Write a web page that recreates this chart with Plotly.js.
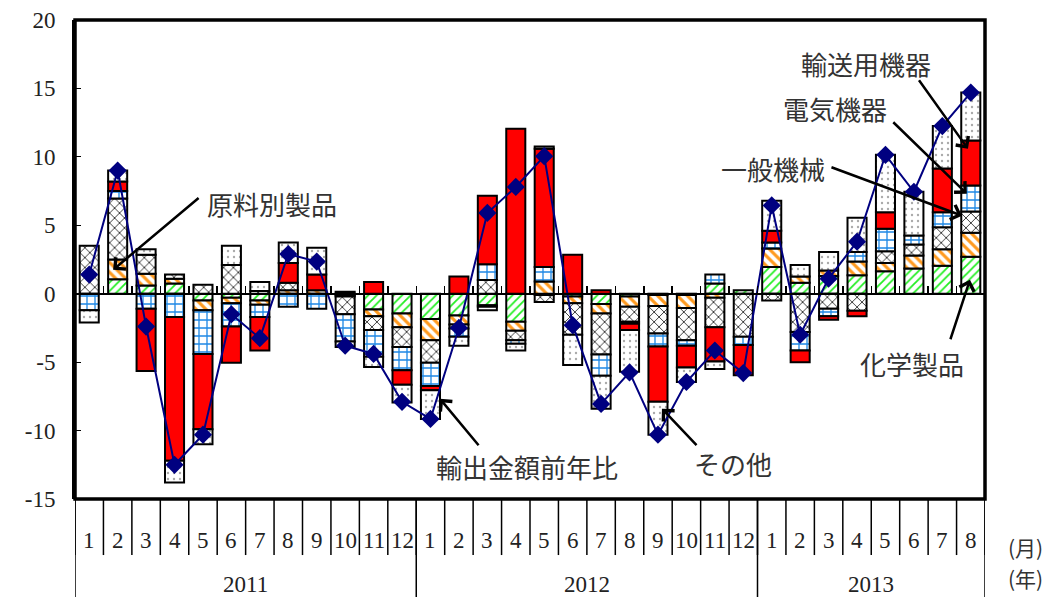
<!DOCTYPE html>
<html>
<head>
<meta charset="utf-8">
<script src="https://cdn.plot.ly/plotly-3.0.1.min.js"></script>
<style>html,body{margin:0;padding:0;background:#fff;}#chart{width:1053px;height:597px;}</style>
</head>
<body>
<div id="chart"></div>
<script>
// ---- data ----
const months = ["1","2","3","4","5","6","7","8","9","10","11","12",
                "1","2","3","4","5","6","7","8","9","10","11","12",
                "1","2","3","4","5","6","7","8"];
const years = ["2011","2012","2013"];
const yearCounts = [12, 12, 8];

const chemical   = [null,1.05,0.6,0.75,-0.5,-0.3,-0.5,null,null,-0.1,-1.15,-1.45,
                    -1.85,-1.6,-0.85,-2.05,-0.1,-0.2,-0.75,-0.2,-0.1,-0.1,0.75,0.25,
                    1.95,0.8,1.3,1.35,1.65,1.85,2.05,2.7];
const materials  = [null,1.45,0.85,0.35,-0.7,-0.4,-0.3,0.25,0.25,-0.1,-0.5,-1.0,
                    -1.55,-0.65,-0.1,-0.65,0.9,-0.5,-0.7,-0.75,-0.8,-0.95,-0.3,null,
                    1.35,0.45,0.4,1.0,0.6,0.95,1.2,1.75];
const machinery  = [3.5,4.45,1.4,0.3,0.65,2.1,0.2,0.55,null,-1.3,-1.0,-1.45,
                    -1.65,-0.3,1.0,-0.7,-0.5,-2.3,-3.0,-1.1,-2.0,-2.35,-2.15,-3.15,
                    -0.5,-2.8,-1.1,-1.25,0.85,0.8,1.6,1.55];
const electrical = [-1.2,0.55,-1.1,-1.7,-3.2,-1.7,-0.9,-0.95,-1.1,-2.0,-1.95,-1.7,
                    -1.7,-0.6,1.15,-0.25,1.05,null,-1.55,-0.15,-0.95,-0.4,0.65,-0.6,
                    0.45,-1.35,-0.55,0.7,1.65,0.65,1.1,1.9];
const transport  = [null,0.7,-4.55,-10.5,-5.5,-2.65,-2.45,1.45,1.15,0.15,0.85,-1.05,
                    -0.3,1.25,5.0,12.05,8.65,2.85,0.25,-0.45,-4.05,-1.6,-2.5,-2.2,
                    0.85,-0.85,-0.25,-0.4,1.2,null,3.2,3.3];
const others     = [-0.9,0.8,0.4,-1.6,-1.1,1.4,0.65,1.5,1.95,-0.4,-0.75,-1.3,
                    -2.1,-0.65,-0.25,-0.5,0.15,-2.2,-2.4,-3.05,-2.4,-1.05,-0.55,null,
                    2.2,0.85,1.35,2.5,4.2,3.2,3.1,3.5];
const exportsYoY = [1.4,9.0,-2.4,-12.5,-10.3,-1.5,-3.25,2.9,2.35,-3.8,-4.4,-7.9,
                    -9.15,-2.5,5.9,7.8,10.05,-2.3,-8.05,-5.75,-10.3,-6.45,-4.15,-5.8,
                    6.45,-3.0,1.1,3.8,10.15,7.45,12.25,14.7];

const yTickVals = [-15,-10,-5,0,5,10,15,20];
const yTickText = ["-15","-10","-5","0","5","10","15","20"];

// ---- build ----
const xIdx = months.map((_, i) => i);
const outline = {color: "#000", width: 2};
function barTrace(name, y, pattern, color) {
  return {type: "bar", name: name, x: xIdx, y: y,
    marker: {color: color || "#fff", line: outline, pattern: pattern}};
}
const traces = [
  barTrace("化学製品", chemical, {shape: "/", fgcolor: "#22ee22", bgcolor: "#fff", size: 6, solidity: 0.3}),
  barTrace("原料別製品", materials, {shape: "\\", fgcolor: "#ff9a1f", bgcolor: "#fff", size: 7, solidity: 0.45}),
  barTrace("一般機械", machinery, {shape: "x", fgcolor: "#333", bgcolor: "#fff", size: 7, solidity: 0.25}),
  barTrace("電気機器", electrical, {shape: "+", fgcolor: "#1e88e5", bgcolor: "#fff", size: 8, solidity: 0.3}),
  barTrace("輸送用機器", transport, {shape: ""}, "#ff0000"),
  barTrace("その他", others, {shape: ".", fgcolor: "#aaa", bgcolor: "#fff", size: 6, solidity: 0.12}),
  {type: "scatter", mode: "lines+markers", name: "輸出金額前年比", x: xIdx, y: exportsYoY,
   line: {color: "#000080", width: 2}, marker: {symbol: "diamond", size: 14, color: "#000080"}}
];

const n = months.length;
const shapes = [];
const monthLineBottom = -0.117, yearLineBottom = -0.21;
for (let i = 0; i <= n; i++) {
  shapes.push({type: "line", xref: "x", yref: "paper", x0: i - 0.5, x1: i - 0.5,
    y0: 0, y1: monthLineBottom, line: {color: "#000", width: 1.5}});
}
let acc = 0;
const yearBounds = [0];
yearCounts.forEach(c => { acc += c; yearBounds.push(acc); });
yearBounds.forEach(b => {
  shapes.push({type: "line", xref: "x", yref: "paper", x0: b - 0.5, x1: b - 0.5,
    y0: 0, y1: yearLineBottom, line: {color: "#000", width: 1.5}});
});
shapes.push({type: "rect", xref: "paper", yref: "paper", x0: 0, x1: 1, y0: 0, y1: 1,
  line: {color: "#000", width: 3.5}, layer: "above"});

const numFont = {family: "Liberation Serif, DejaVu Serif, serif", size: 23, color: "#222"};
const jpFont = {family: "Noto Sans CJK JP, sans-serif", size: 26, color: "#333"};

const annotations = [];
months.forEach((m, i) => annotations.push({xref: "x", yref: "paper", x: i, y: -0.086,
  text: m, showarrow: false, font: numFont, xanchor: "center", yanchor: "middle"}));
years.forEach((yv, k) => annotations.push({xref: "x", yref: "paper",
  x: (yearBounds[k] + yearBounds[k + 1] - 1) / 2, y: -0.178, text: yv, showarrow: false,
  font: numFont, xanchor: "center", yanchor: "middle"}));
annotations.push({xref: "paper", yref: "paper", x: 1.045, y: -0.1, text: "(月)",
  showarrow: false, font: {family: jpFont.family, size: 21, color: "#333"}, xanchor: "center", yanchor: "middle"});
annotations.push({xref: "paper", yref: "paper", x: 1.045, y: -0.165, text: "(年)",
  showarrow: false, font: {family: jpFont.family, size: 21, color: "#333"}, xanchor: "center", yanchor: "middle"});

const callouts = [
  {text: "原料別製品", tx: 6.43, ty: 6.6, hx: 0.84, hy: 1.75, ax: 87, ay: -73},
  {text: "輸出金額前年比", tx: 15.4, ty: -12.64, hx: 12.33, hy: -7.67, ax: 40, ay: 48},
  {text: "その他", tx: 22.64, ty: -12.42, hx: 20.14, hy: -8.4, ax: 36, ay: 38},
  {text: "化学製品", tx: 28.93, ty: -5.11, hx: 30.97, hy: 1.02, ax: -20, ay: 61},
  {text: "一般機械", tx: 24.04, ty: 9.13, hx: 30.69, hy: 5.7, ax: -132, ay: -49},
  {text: "電気機器", tx: 26.22, ty: 13.51, hx: 30.86, hy: 7.3, ax: -75, ay: -73},
  {text: "輸送用機器", tx: 27.31, ty: 16.8, hx: 30.9, hy: 10.59, ax: -50, ay: -70}
];
callouts.forEach(c => {
  annotations.push({xref: "x", yref: "y", x: c.tx, y: c.ty, text: c.text, showarrow: false,
    font: jpFont, xanchor: "center", yanchor: "middle"});
  annotations.push({xref: "x", yref: "y", x: c.hx, y: c.hy, text: "", showarrow: true,
    ax: c.ax, ay: c.ay, arrowhead: 4, arrowsize: 1.2, arrowwidth: 2.5, arrowcolor: "#000"});
});

const layout = {
  width: 1053, height: 597,
  margin: {l: 75, r: 68, t: 20, b: 98},
  paper_bgcolor: "#fff", plot_bgcolor: "#fff",
  barmode: "relative", bargap: 0.33,
  showlegend: false,
  xaxis: {type: "linear", range: [-0.5, n - 0.5], anchor: "free", position: 15 / 35,
    showline: true, linecolor: "#000", linewidth: 2, showgrid: false, zeroline: false,
    ticks: "inside", ticklen: 7, tickwidth: 1.5, tickcolor: "#000",
    tickvals: xIdx.slice(0, n - 1).map(i => i + 0.5), showticklabels: false, fixedrange: true},
  yaxis: {range: [-15, 20], tickvals: yTickVals, ticktext: yTickText,
    showline: true, linecolor: "#000", linewidth: 3, ticks: "inside", ticklen: 6,
    tickcolor: "#000", showgrid: false, zeroline: false, tickfont: numFont,
    ticklabelstandoff: 12, fixedrange: true},
  shapes: shapes,
  annotations: annotations
};

Plotly.newPlot("chart", traces, layout, {displayModeBar: false, staticPlot: true});
</script>
</body>
</html>
